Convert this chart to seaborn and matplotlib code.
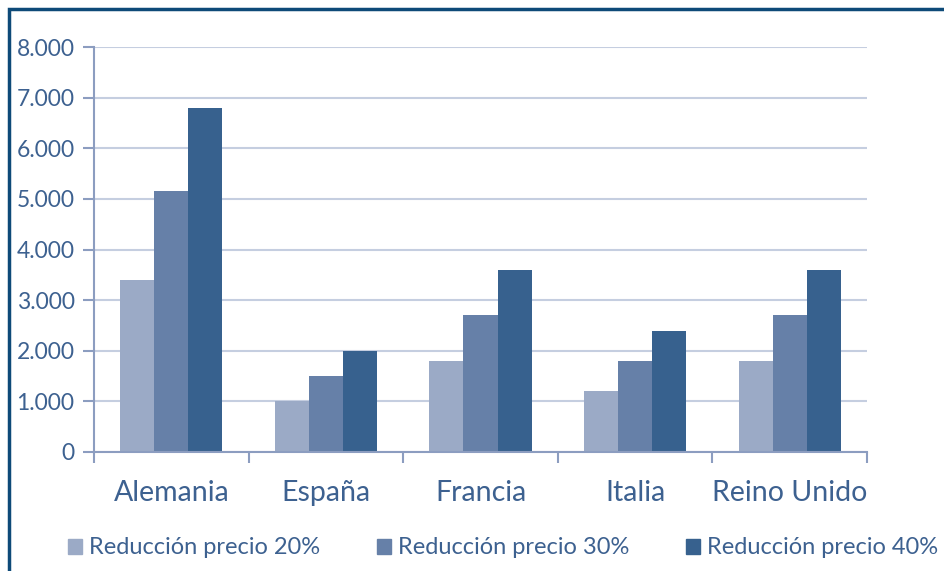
import numpy as np
import pandas as pd
import matplotlib.pyplot as plt
import seaborn as sns
from matplotlib.ticker import FuncFormatter, FixedLocator
from matplotlib.patches import Rectangle

paises = ["Alemania", "España", "Francia", "Italia", "Reino Unido"]
series = ["Reducción precio 20%", "Reducción precio 30%", "Reducción precio 40%"]
red_20 = [3400, 1000, 1800, 1200, 1800]
red_30 = [5150, 1500, 2700, 1800, 2700]
red_40 = [6800, 2000, 3600, 2400, 3600]

colores = ["#9BAAC6", "#6680A8", "#37618E"]
texto = "#3D6190"

df = pd.DataFrame({
    "pais": paises * 3,
    "serie": [series[0]] * 5 + [series[1]] * 5 + [series[2]] * 5,
    "valor": red_20 + red_30 + red_40,
})

sns.set_style("white")
plt.rcParams['font.family'] = ['Lato', 'DejaVu Sans']

fig = plt.figure(figsize=(9.44, 5.71), dpi=100)
ax = fig.add_axes([94 / 944, 1 - 452 / 571, (867 - 94) / 944, (452 - 47) / 571])

sns.barplot(data=df, x="pais", y="valor", hue="serie", palette=colores,
            width=0.66, gap=0, saturation=1, ax=ax, linewidth=0)

ax.set_ylim(0, 8000)
ax.set_xlim(-0.5, 4.5)
ax.set_yticks(np.arange(0, 8001, 1000))
ax.yaxis.set_major_formatter(FuncFormatter(lambda v, p: f"{int(v):,}".replace(",", ".")))
ax.grid(axis="y", color="#C5CEE0", linewidth=1.5)
ax.set_axisbelow(True)

for s in ["top", "right"]:
    ax.spines[s].set_visible(False)
for s in ["left", "bottom"]:
    ax.spines[s].set_color("#8C9DC0")
    ax.spines[s].set_linewidth(1.5)

ax.tick_params(axis="y", length=8, width=1.5, color="#8C9DC0", labelsize=16.5,
               labelcolor=texto, pad=6, left=True)
ax.tick_params(axis="x", which="major", length=0, labelsize=20.5, labelcolor=texto, pad=20)
ax.xaxis.set_minor_locator(FixedLocator(np.arange(-0.5, 4.6, 1)))
ax.tick_params(axis="x", which="minor", length=8, width=1.5, color="#8C9DC0", bottom=True)
ax.set_xlabel("")
ax.set_ylabel("")

ax.legend_.remove()
handles = [Rectangle((0, 0), 1, 1, color=c) for c in colores]
fig.legend(handles, series, loc="center", bbox_to_anchor=(0.533, 1 - 548 / 571),
           ncol=3, frameon=False, fontsize=17, labelcolor=texto,
           handlelength=0.6, handleheight=0.6, handletextpad=0.3, columnspacing=2.4)

fig.patches.append(Rectangle((9 / 944, -0.1), 2, 1 - 9 / 571 + 0.1, transform=fig.transFigure,
                             fill=False, edgecolor="#0E4A78", linewidth=2.5))

fig.savefig("out.png", dpi=100)
